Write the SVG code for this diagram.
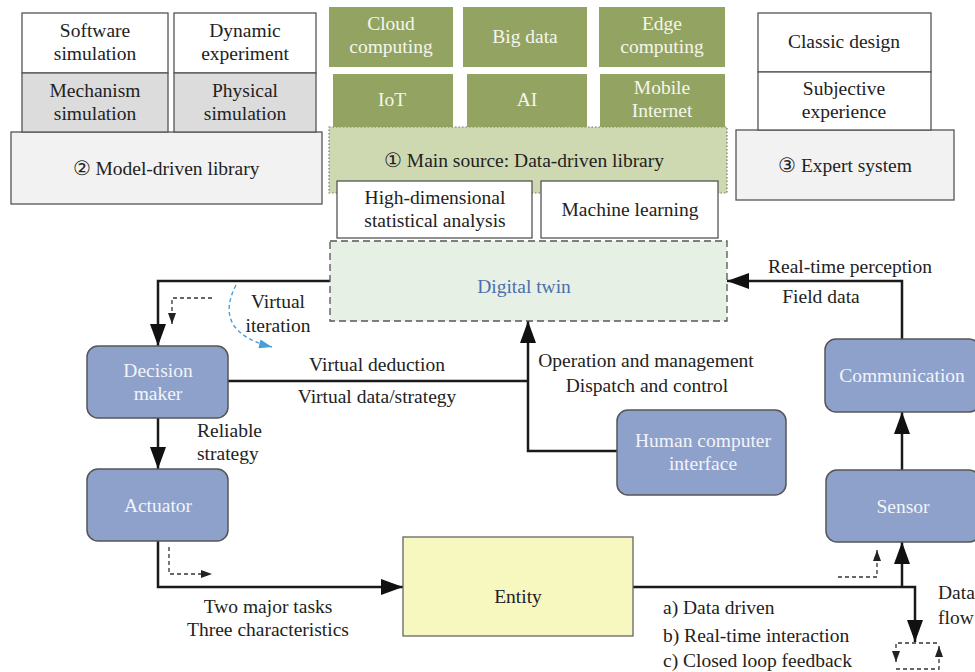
<svg xmlns="http://www.w3.org/2000/svg" width="975" height="672" viewBox="0 0 975 672" font-family="Liberation Serif, DejaVu Serif, serif">
<style>
text{font-family:'Liberation Serif','DejaVu Serif',serif;font-size:19.5px;fill:#222;text-anchor:middle}
.w{fill:#ffffff;stroke:#555;stroke-width:1.3}
.g{fill:#dcdcdc;stroke:#555;stroke-width:1.3}
.lg{fill:#f2f2f2;stroke:#555;stroke-width:1.3}
.olive{fill:#93a462}
.ot{fill:#f4f6ec}
.blue{fill:#8da1ca;stroke:#555;stroke-width:1.5}
.bt{fill:#f2f4fa}
.ln{fill:none;stroke:#1a1a1a;stroke-width:2.5}
.dl{fill:none;stroke:#333;stroke-width:1.3;stroke-dasharray:4 3}
.st{text-anchor:start}
</style>
<defs>
<marker id="big" markerUnits="userSpaceOnUse" markerWidth="22" markerHeight="16" refX="22" refY="8" orient="auto"><path d="M0,0 L22,8 L0,16 z" fill="#111"/></marker>
<marker id="sm" markerUnits="userSpaceOnUse" markerWidth="11" markerHeight="8" refX="11" refY="4" orient="auto"><path d="M0,0 L11,4 L0,8 z" fill="#222"/></marker>
<marker id="bl" markerUnits="userSpaceOnUse" markerWidth="13" markerHeight="9" refX="13" refY="4.5" orient="auto"><path d="M0,0 L13,4.5 L0,9 z" fill="#4a9fd8"/></marker>
</defs>

<g id="model-library">
<rect class="lg" x="11" y="132" width="311" height="72"/>
<text x="166" y="175">② Model-driven library</text>
<rect class="w" x="22" y="13" width="146" height="60"/>
<text x="95" y="37">Software</text><text x="95" y="60">simulation</text>
<rect class="g" x="22" y="73" width="146" height="59"/>
<text x="95" y="97">Mechanism</text><text x="95" y="120">simulation</text>
<rect class="w" x="174" y="13" width="142" height="60"/>
<text x="245" y="37">Dynamic</text><text x="245" y="60">experiment</text>
<rect class="g" x="174" y="73" width="142" height="59"/>
<text x="245" y="97">Physical</text><text x="245" y="120">simulation</text>
</g>

<g id="data-library">
<rect x="329" y="127" width="398" height="66" fill="#cfd9b1" stroke="#777" stroke-width="1.2" stroke-dasharray="1.5 2"/>
<text x="524" y="167">① Main source: Data-driven library</text>
<rect class="olive" x="329" y="7" width="124" height="60"/>
<text class="ot" x="391" y="30">Cloud</text><text class="ot" x="391" y="53">computing</text>
<rect class="olive" x="463" y="7" width="124" height="60"/>
<text class="ot" x="525" y="43">Big data</text>
<rect class="olive" x="599" y="7" width="126" height="60"/>
<text class="ot" x="662" y="30">Edge</text><text class="ot" x="662" y="53">computing</text>
<rect class="olive" x="333" y="74" width="120" height="53"/>
<text class="ot" x="392" y="106">IoT</text>
<rect class="olive" x="467" y="74" width="120" height="53"/>
<text class="ot" x="527" y="106">AI</text>
<rect class="olive" x="600" y="74" width="125" height="53"/>
<text class="ot" x="662" y="94">Mobile</text><text class="ot" x="662" y="117">Internet</text>
<rect class="w" x="337" y="181" width="195" height="57"/>
<text x="435" y="204">High-dimensional</text><text x="435" y="227">statistical analysis</text>
<rect class="w" x="541" y="181" width="177" height="57"/>
<text x="630" y="216">Machine learning</text>
</g>

<g id="expert-system">
<rect class="lg" x="736" y="130" width="218" height="70"/>
<text x="845" y="172">③ Expert system</text>
<rect class="w" x="758" y="13" width="173" height="59"/>
<text x="844" y="48">Classic design</text>
<rect class="w" x="758" y="72" width="173" height="58"/>
<text x="844" y="95">Subjective</text><text x="844" y="118">experience</text>
</g>

<g id="connectors">
<path class="ln" d="M330,281 H158 V346" marker-end="url(#big)"/>
<path class="dl" d="M212,298 H172 V324" marker-end="url(#sm)"/>
<path d="M236,285 Q212,332 272,347" fill="none" stroke="#4a9fd8" stroke-width="1.4" stroke-dasharray="4 3" marker-end="url(#bl)"/>
<path class="ln" d="M228,381 H528"/>
<path class="ln" d="M617,451 H528 V321" marker-end="url(#big)"/>
<path class="ln" d="M902,339 V281 H727" marker-end="url(#big)"/>
<path class="ln" d="M902,470 V412" marker-end="url(#big)"/>
<path class="ln" d="M158,418 V469" marker-end="url(#big)"/>
<path class="ln" d="M158,541 V587 H403" marker-end="url(#big)"/>
<path class="dl" d="M169,547 V574 H212" marker-end="url(#sm)"/>
<path class="ln" d="M633,587 H915 V642" marker-end="url(#big)"/>
<path class="ln" d="M902,587 V542" marker-end="url(#big)"/>
<path class="dl" d="M838,577 H877 V550" marker-end="url(#sm)"/>
<path class="dl" d="M937,643 H896 V662" marker-end="url(#sm)"/>
<path class="dl" d="M896,669 H939 V646" marker-end="url(#sm)"/>
<text x="278" y="308">Virtual</text><text x="278" y="332">iteration</text>
<text x="377" y="371">Virtual deduction</text>
<text x="377" y="403">Virtual data/strategy</text>
<text class="st" x="197" y="437">Reliable</text><text class="st" x="197" y="460">strategy</text>
<text x="646" y="367">Operation and management</text>
<text x="647" y="392">Dispatch and control</text>
<text x="850" y="273">Real-time perception</text>
<text x="821" y="303">Field data</text>
<text x="268" y="613">Two major tasks</text>
<text x="268" y="636">Three characteristics</text>
<text class="st" x="663" y="614">a) Data driven</text>
<text class="st" x="663" y="642">b) Real-time interaction</text>
<text class="st" x="663" y="667">c) Closed loop feedback</text>
<text class="st" x="938" y="599">Data</text><text class="st" x="938" y="624">flow</text>
</g>

<g id="digital-twin">
<rect x="330" y="241" width="397" height="80" fill="#e6f0e5" stroke="#555" stroke-width="1.3" stroke-dasharray="7 4"/>
<text x="524" y="293" style="fill:#4a6fad">Digital twin</text>
</g>

<g id="decision-maker">
<rect class="blue" x="87" y="346" width="141" height="72" rx="11"/>
<text class="bt" x="158" y="377">Decision</text><text class="bt" x="158" y="400">maker</text>
</g>

<g id="actuator">
<rect class="blue" x="87" y="469" width="141" height="72" rx="11"/>
<text class="bt" x="158" y="512">Actuator</text>
</g>

<g id="hci">
<rect class="blue" x="617" y="410" width="169" height="85" rx="11"/>
<text class="bt" x="703" y="447">Human computer</text><text class="bt" x="703" y="470">interface</text>
</g>

<g id="communication">
<rect class="blue" x="825" y="339" width="155" height="73" rx="11"/>
<text class="bt" x="902" y="382">Communication</text>
</g>

<g id="sensor">
<rect class="blue" x="826" y="470" width="154" height="72" rx="11"/>
<text class="bt" x="903" y="513">Sensor</text>
</g>

<g id="entity">
<rect x="403" y="537" width="230" height="99" fill="#f7f7c0" stroke="#666" stroke-width="1.3"/>
<text x="518" y="603">Entity</text>
</g>
</svg>
